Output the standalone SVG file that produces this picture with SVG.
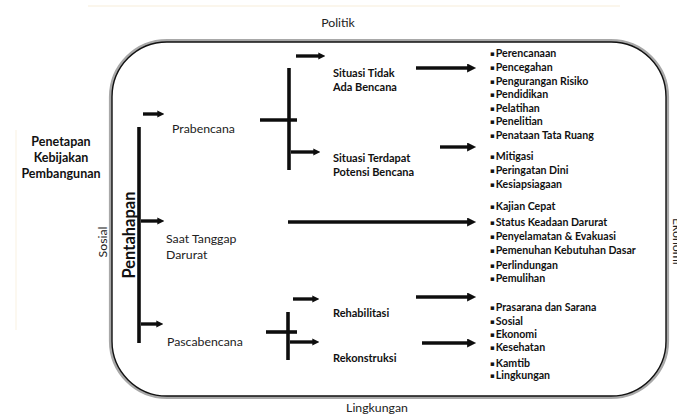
<svg xmlns="http://www.w3.org/2000/svg" width="677" height="416" viewBox="0 0 677 416">
<defs>
<style>
.r{font-family:Lato,"Open Sans","Liberation Sans",sans-serif;font-size:12.3px;fill:#222}
.b{font-family:Lato,"Open Sans","Liberation Sans",sans-serif;font-weight:bold;fill:#111}
.lb{font-size:11px}
.it{font-family:Lato,"Open Sans","Liberation Sans",sans-serif;font-weight:bold;font-size:10.6px;fill:#111}
.bu{font-family:"DejaVu Sans",sans-serif;font-size:7px}
.ln{stroke:#111;stroke-width:3.6;fill:none;stroke-linecap:butt}
.ar{stroke:#111;stroke-width:3.4;fill:none}
</style>
<filter id="soft" x="-5%" y="-5%" width="110%" height="110%"><feGaussianBlur stdDeviation="0.5"/></filter>
<marker id="hs" viewBox="0 0 10 10" refX="1" refY="5" markerWidth="7" markerHeight="8" markerUnits="userSpaceOnUse" orient="auto"><path d="M0,0 L10,5 L0,10 z" fill="#111"/></marker>
<marker id="hl" viewBox="0 0 10 10" refX="1" refY="5" markerWidth="10" markerHeight="9" markerUnits="userSpaceOnUse" orient="auto"><path d="M0,0 L10,5 L0,10 z" fill="#111"/></marker>
</defs>
<rect width="677" height="416" fill="#fff"/>
<line x1="88" y1="6" x2="620" y2="6" stroke="#fbf6ec" stroke-width="2"/>
<line x1="16" y1="130" x2="16" y2="330" stroke="#fcf8f0" stroke-width="2"/>

<g id="frame">
<rect x="110.5" y="40.5" width="557" height="357" rx="56.5" fill="none" stroke="#a8a8a8" stroke-width="3.2"/>
<rect x="112" y="42" width="554" height="354" rx="55" fill="#fff" stroke="#111" stroke-width="1.4"/>
</g>

<g id="outer-labels">
<text id="politik" class="r" x="338" y="27" text-anchor="middle" font-size="14.3">Politik</text>
<text id="lingkungan" class="r" x="377" y="412" text-anchor="middle" font-size="14.3">Lingkungan</text>
<text id="sosial" class="r" font-size="13.5" text-anchor="middle" transform="translate(107,242) rotate(-90)">Sosial</text>
<text id="ekonomi" class="r" font-size="13.5" transform="translate(673,218) rotate(90)">Ekonomi</text>
<text id="penetapan" class="b" font-size="12.5" text-anchor="middle"><tspan x="61" y="146">Penetapan</tspan><tspan x="61" y="162">Kebijakan</tspan><tspan x="61" y="178">Pembangunan</tspan></text>
</g>

<g id="pentahapan"><text class="b" font-size="16.5" text-anchor="middle" transform="translate(134.5,235) rotate(-90)">Pentahapan</text></g>

<g id="connectors" filter="url(#soft)">
<line class="ln" x1="139" y1="127" x2="139" y2="343"/>
<line class="ar" x1="143" y1="114" x2="158" y2="114" marker-end="url(#hs)"/>
<line class="ar" x1="141" y1="221" x2="158" y2="221" marker-end="url(#hs)"/>
<line class="ar" x1="141" y1="324" x2="157" y2="324" marker-end="url(#hs)"/>
<line class="ln" x1="289" y1="68" x2="289" y2="170"/>
<line class="ln" x1="260" y1="120" x2="297" y2="120"/>
<line class="ar" x1="296" y1="56" x2="319" y2="56" marker-end="url(#hs)"/>
<line class="ar" x1="291" y1="152" x2="314" y2="152" marker-end="url(#hs)"/>
<line class="ln" x1="288" y1="312" x2="288" y2="360"/>
<line class="ln" x1="266" y1="332" x2="297" y2="332"/>
<line class="ar" x1="293" y1="299" x2="313" y2="299" marker-end="url(#hs)"/>
<line class="ar" x1="290" y1="342" x2="313" y2="342" marker-end="url(#hs)"/>
<line class="ar" x1="416" y1="68" x2="468" y2="68" marker-end="url(#hl)"/>
<line class="ar" x1="440" y1="147" x2="468" y2="147" marker-end="url(#hl)"/>
<line class="ar" x1="288" y1="222" x2="468" y2="222" marker-end="url(#hl)"/>
<line class="ar" x1="416" y1="297" x2="468" y2="297" marker-end="url(#hl)"/>
<line class="ar" x1="422" y1="343" x2="468" y2="343" marker-end="url(#hl)"/>
</g>

<g id="prabencana"><text class="r" x="172" y="133">Prabencana</text></g>
<g id="saat-tanggap"><text class="r"><tspan x="166" y="243">Saat Tanggap</tspan><tspan x="166" y="259">Darurat</tspan></text></g>
<g id="pascabencana"><text class="r" x="167" y="346">Pascabencana</text></g>

<g id="situasi-tidak"><text class="b lb"><tspan x="333" y="77">Situasi Tidak</tspan><tspan x="333" y="91">Ada Bencana</tspan></text></g>
<g id="situasi-potensi"><text class="b lb"><tspan x="333" y="162">Situasi Terdapat</tspan><tspan x="333" y="176">Potensi Bencana</tspan></text></g>
<g id="rehabilitasi"><text class="b lb" x="333" y="317">Rehabilitasi</text></g>
<g id="rekonstruksi"><text class="b lb" x="333" y="362">Rekonstruksi</text></g>

<g id="list-pra-tidak" class="it">
<text x="490" y="57"><tspan class="bu" dy="-1">▪</tspan><tspan dx="1" dy="1">Perencanaan</tspan></text>
<text x="490" y="71"><tspan class="bu" dy="-1">▪</tspan><tspan dx="1" dy="1">Pencegahan</tspan></text>
<text x="490" y="85"><tspan class="bu" dy="-1">▪</tspan><tspan dx="1" dy="1">Pengurangan Risiko</tspan></text>
<text x="490" y="98"><tspan class="bu" dy="-1">▪</tspan><tspan dx="1" dy="1">Pendidikan</tspan></text>
<text x="490" y="112"><tspan class="bu" dy="-1">▪</tspan><tspan dx="1" dy="1">Pelatihan</tspan></text>
<text x="490" y="125"><tspan class="bu" dy="-1">▪</tspan><tspan dx="1" dy="1">Penelitian</tspan></text>
<text x="490" y="139"><tspan class="bu" dy="-1">▪</tspan><tspan dx="1" dy="1">Penataan Tata Ruang</tspan></text>
</g>
<g id="list-pra-potensi" class="it">
<text x="490" y="160"><tspan class="bu" dy="-1">▪</tspan><tspan dx="1" dy="1">Mitigasi</tspan></text>
<text x="490" y="174"><tspan class="bu" dy="-1">▪</tspan><tspan dx="1" dy="1">Peringatan Dini</tspan></text>
<text x="490" y="188"><tspan class="bu" dy="-1">▪</tspan><tspan dx="1" dy="1">Kesiapsiagaan</tspan></text>
</g>
<g id="list-darurat" class="it">
<text x="490" y="210"><tspan class="bu" dy="-1">▪</tspan><tspan dx="1" dy="1">Kajian Cepat</tspan></text>
<text x="490" y="226"><tspan class="bu" dy="-1">▪</tspan><tspan dx="1" dy="1">Status Keadaan Darurat</tspan></text>
<text x="490" y="240"><tspan class="bu" dy="-1">▪</tspan><tspan dx="1" dy="1">Penyelamatan &amp; Evakuasi</tspan></text>
<text x="490" y="254"><tspan class="bu" dy="-1">▪</tspan><tspan dx="1" dy="1">Pemenuhan Kebutuhan Dasar</tspan></text>
<text x="490" y="269"><tspan class="bu" dy="-1">▪</tspan><tspan dx="1" dy="1">Perlindungan</tspan></text>
<text x="490" y="282"><tspan class="bu" dy="-1">▪</tspan><tspan dx="1" dy="1">Pemulihan</tspan></text>
</g>
<g id="list-pasca" class="it">
<text x="490" y="311"><tspan class="bu" dy="-1">▪</tspan><tspan dx="1" dy="1">Prasarana dan Sarana</tspan></text>
<text x="490" y="325"><tspan class="bu" dy="-1">▪</tspan><tspan dx="1" dy="1">Sosial</tspan></text>
<text x="490" y="338"><tspan class="bu" dy="-1">▪</tspan><tspan dx="1" dy="1">Ekonomi</tspan></text>
<text x="490" y="351"><tspan class="bu" dy="-1">▪</tspan><tspan dx="1" dy="1">Kesehatan</tspan></text>
<text x="490" y="367"><tspan class="bu" dy="-1">▪</tspan><tspan dx="1" dy="1">Kamtib</tspan></text>
<text x="490" y="379"><tspan class="bu" dy="-1">▪</tspan><tspan dx="1" dy="1">Lingkungan</tspan></text>
</g>
</svg>
